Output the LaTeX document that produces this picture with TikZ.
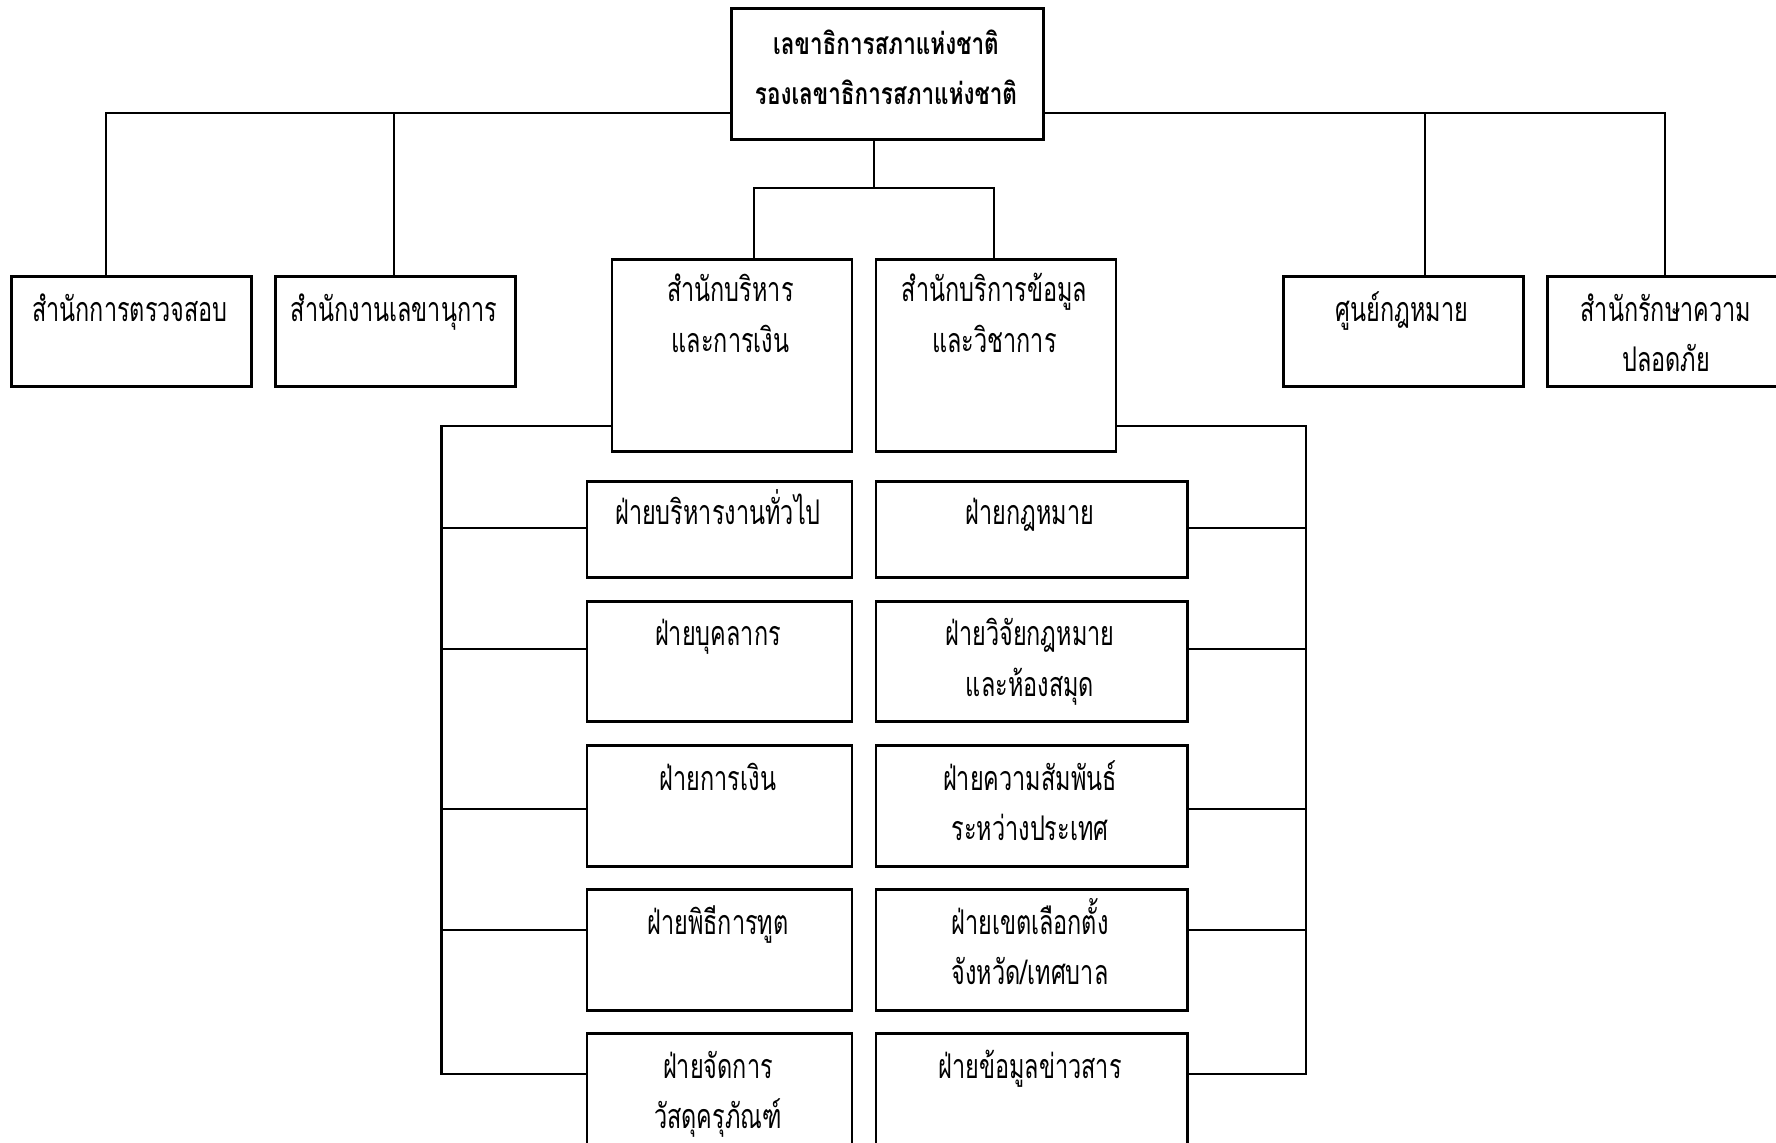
\documentclass[tikz,border=0pt]{standalone}
\usepackage{fontspec}
\newfontfamily\thai[Script=Thai,FakeStretch=0.69]{Loma}
\newfontfamily\thaib[Script=Thai,FakeStretch=0.75,UprightFont=*,BoldFont=* Bold]{Loma}
\begin{document}
\begin{tikzpicture}[x=0.5pt,y=-0.5pt,
  box/.style={draw,line width=1.4pt,rectangle,inner sep=0pt,anchor=north west},
  lbl/.style={anchor=base,inner sep=0pt,font=\thai\fontsize{17pt}{20pt}\selectfont},
  blbl/.style={anchor=base,inner sep=0pt,font=\thaib\bfseries\fontsize{15pt}{18pt}\selectfont},
  con/.style={line width=1.4pt}]
\useasboundingbox (0,0) rectangle (1776,1143);
\clip (0,0) rectangle (1776,1143);
% top
\node[box,minimum width=156pt,minimum height=65.5pt] (top) at (730,7) {};
\node[blbl] (topt1) at (886,55) {เลขาธิการสภาแห่งชาติ};
\node[blbl] (topt2) at (886,105) {รองเลขาธิการสภาแห่งชาติ};
% row 1
\node[box,minimum width=120pt,minimum height=55pt] (b1) at (10,275) {};
\node[lbl] (b1t) at (130,322) {สำนักการตรวจสอบ};
\node[box,minimum width=120pt,minimum height=55pt] (b2) at (274,275) {};
\node[lbl] (b2t) at (394,322) {สำนักงานเลขานุการ};
\node[box,minimum width=120pt,minimum height=55pt] (b3) at (1282,275) {};
\node[lbl] (b3t) at (1402,322) {ศูนย์กฎหมาย};
\node[box,minimum width=120pt,minimum height=55pt] (b4) at (1546,275) {};
\node[lbl] (b4t1) at (1666,322) {สำนักรักษาความ};
\node[lbl] (b4t2) at (1666,372) {ปลอดภัย};
% center offices
\node[box,minimum width=120pt,minimum height=96pt] (A) at (610.5,258) {};
\node[lbl] (At1) at (730.5,302) {สำนักบริหาร};
\node[lbl] (At2) at (730.5,353) {และการเงิน};
\node[box,minimum width=120pt,minimum height=96pt] (B) at (874.5,258) {};
\node[lbl] (Bt1) at (994.5,302) {สำนักบริการข้อมูล};
\node[lbl] (Bt2) at (994.5,353) {และวิชาการ};
% left sub boxes
\node[box,minimum width=132.5pt,minimum height=48pt] (L1) at (585.6,480) {};
\node[lbl] (L1t) at (718,525) {ฝ่ายบริหารงานทั่วไป};
\node[box,minimum width=132.5pt,minimum height=60pt] (L2) at (585.6,600) {};
\node[lbl] (L2t) at (718,646) {ฝ่ายบุคลากร};
\node[box,minimum width=132.5pt,minimum height=60.5pt] (L3) at (585.6,744) {};
\node[lbl] (L3t) at (718,790) {ฝ่ายการเงิน};
\node[box,minimum width=132.5pt,minimum height=60.5pt] (L4) at (585.6,888) {};
\node[lbl] (L4t) at (718,934) {ฝ่ายพิธีการทูต};
\node[box,minimum width=132.5pt,minimum height=60.5pt] (L5) at (585.6,1032) {};
\node[lbl] (L5t1) at (718,1078) {ฝ่ายจัดการ};
\node[lbl] (L5t2) at (718,1128) {วัสดุครุภัณฑ์};
% right sub boxes
\node[box,minimum width=155.75pt,minimum height=48pt] (R1) at (874.5,480) {};
\node[lbl] (R1t) at (1030,525) {ฝ่ายกฎหมาย};
\node[box,minimum width=155.75pt,minimum height=60pt] (R2) at (874.5,600) {};
\node[lbl] (R2t1) at (1030,646) {ฝ่ายวิจัยกฎหมาย};
\node[lbl] (R2t2) at (1030,696) {และห้องสมุด};
\node[box,minimum width=155.75pt,minimum height=60.5pt] (R3) at (874.5,744) {};
\node[lbl] (R3t1) at (1030,790) {ฝ่ายความสัมพันธ์};
\node[lbl] (R3t2) at (1030,840) {ระหว่างประเทศ};
\node[box,minimum width=155.75pt,minimum height=60.5pt] (R4) at (874.5,888) {};
\node[lbl] (R4t1) at (1030,934) {ฝ่ายเขตเลือกตั้ง};
\node[lbl] (R4t2) at (1030,984) {จังหวัด/เทศบาล};
\node[box,minimum width=155.75pt,minimum height=60.5pt] (R5) at (874.5,1032) {};
\node[lbl] (R5t) at (1030,1078) {ฝ่ายข้อมูลข่าวสาร};
% connector coordinates
\coordinate (bl1) at (106,113);
\coordinate (bl2) at (394,113);
\coordinate (br2) at (1425,113);
\coordinate (br1) at (1665,113);
\coordinate (cm) at (874,188);
\coordinate (cA) at (754,188);
\coordinate (cB) at (994,188);
\coordinate (LB) at (441.7,426);
\coordinate (RB) at (1306,426);
\coordinate (y1) at (0,528);
\coordinate (y2) at (0,649);
\coordinate (y3) at (0,809);
\coordinate (y4) at (0,930);
\coordinate (y5) at (0,1074);
% top bar
\draw[con] (top.west |- bl1) -- (bl1) -- (bl1 |- b1.north);
\draw[con] (bl2) -- (bl2 |- b2.north);
\draw[con] (top.east |- br1) -- (br1) -- (br1 |- b4.north);
\draw[con] (br2) -- (br2 |- b3.north);
% center
\draw[con] (top.south -| cm) -- (cm);
\draw[con] (A.north -| cA) -- (cA) -- (cB) -- (B.north -| cB);
% left bracket
\draw[con] (A.west |- LB) -- (LB) -- (LB |- y5) -- (L5.west |- y5);
\draw[con] (LB |- y1) -- (L1.west |- y1);
\draw[con] (LB |- y2) -- (L2.west |- y2);
\draw[con] (LB |- y3) -- (L3.west |- y3);
\draw[con] (LB |- y4) -- (L4.west |- y4);
% right bracket
\draw[con] (B.east |- RB) -- (RB) -- (RB |- y5) -- (R5.east |- y5);
\draw[con] (RB |- y1) -- (R1.east |- y1);
\draw[con] (RB |- y2) -- (R2.east |- y2);
\draw[con] (RB |- y3) -- (R3.east |- y3);
\draw[con] (RB |- y4) -- (R4.east |- y4);
\end{tikzpicture}
\end{document}
